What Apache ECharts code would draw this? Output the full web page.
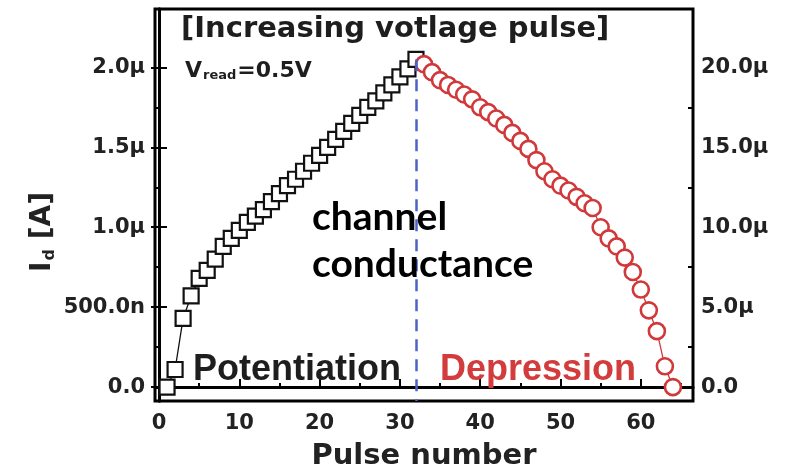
<!DOCTYPE html>
<html><head><meta charset="utf-8">
<script src="https://cdn.jsdelivr.net/npm/echarts@6/dist/echarts.min.js"></script>
<style>html,body{margin:0;padding:0;background:#fff}#c{width:789px;height:476px}</style>
</head><body><div id="c"></div>
<script>
// ---- data (current in μA) ----
const potPulse = [1,2,3,4,5,6,7,8,9,10,11,12,13,14,15,16,17,18,19,20,21,22,23,24,25,26,27,28,29,30,31,32];
const potCurrent = [0.00,0.11,0.43,0.57,0.68,0.73,0.80,0.88,0.93,0.98,1.03,1.07,1.11,1.16,1.21,1.26,1.30,1.35,1.40,1.45,1.50,1.55,1.60,1.65,1.70,1.75,1.79,1.84,1.89,1.94,1.99,2.05];
const depPulse = [33,34,35,36,37,38,39,40,41,42,43,44,45,46,47,48,49,50,51,52,53,54,55,56,57,58,59,60,61,62,63,64];
const depCurrent = [2.02,1.97,1.92,1.89,1.86,1.83,1.80,1.75,1.72,1.68,1.64,1.59,1.54,1.49,1.42,1.35,1.30,1.26,1.23,1.19,1.15,1.12,1.00,0.93,0.88,0.81,0.72,0.61,0.48,0.35,0.13,0.00];
const dividerPulse = 32;
const xTicks = [0,10,20,30,40,50,60];
const xMinorTicks = [5,15,25,35,45,55,65];
const leftTicks = [0,0.5,1.0,1.5,2.0];
const leftTickLabels = ['0.0','500.0n','1.0μ','1.5μ','2.0μ'];
const leftMinorTicks = [0.25,0.75,1.25,1.75];
const rightTicks = [0,5,10,15,20];
const rightTickLabels = ['0.0','5.0μ','10.0μ','15.0μ','20.0μ'];
const rightMinorTicks = [2.5,7.5,12.5,17.5];

const BOLD = 'DejaVu Sans';
const chart = echarts.init(document.getElementById('c'), null, {renderer:'canvas'});
const lab = (ticks, labels) => (v) => { const i = ticks.findIndex(t => Math.abs(t - v) < 1e-6); return i >= 0 ? labels[i] : ''; };
const labelStyle = {fontFamily: BOLD, fontWeight: 'bold', fontSize: 21, color: '#222'};

const option = {
  animation: false,
  backgroundColor: '#fff',
  grid: {left: 155, top: 9, right: 96, bottom: 71, show: true, borderColor: '#000', borderWidth: 3, backgroundColor: 'transparent'},
  xAxis: [
    {type: 'value', min: -0.5, max: 66.5, position: 'bottom',
     axisLine: {show: true, lineStyle: {color: '#000', width: 3}},
     axisTick: {show: true, inside: true, length: 8, lineStyle: {color: '#000', width: 2}, customValues: xTicks},
     axisLabel: Object.assign({customValues: xTicks, margin: 12, formatter: v => String(v)}, labelStyle),
     splitLine: {show: false},
     name: 'Pulse number', nameLocation: 'middle', nameGap: 41,
     nameTextStyle: {fontFamily: BOLD, fontWeight: 'bold', fontSize: 29, color: '#222'}},
    {type: 'value', min: -0.5, max: 66.5, position: 'bottom',
     axisLine: {show: false},
     axisTick: {show: true, inside: true, length: 4, lineStyle: {color: '#000', width: 2}, customValues: xMinorTicks},
     axisLabel: {show: false}, splitLine: {show: false}}
  ],
  yAxis: [
    {type: 'value', min: -0.087, max: 2.365, position: 'left',
     axisLine: {show: true, lineStyle: {color: '#000', width: 3}},
     axisTick: {show: true, inside: true, length: 8, lineStyle: {color: '#000', width: 2}, customValues: leftTicks},
     axisLabel: Object.assign({customValues: leftTicks, margin: 10, formatter: lab(leftTicks, leftTickLabels)}, labelStyle),
     splitLine: {show: false}},
    {type: 'value', min: -0.87, max: 23.65, position: 'right',
     axisLine: {show: true, lineStyle: {color: '#000', width: 3}},
     axisTick: {show: true, inside: true, length: 8, lineStyle: {color: '#000', width: 2}, customValues: rightTicks},
     axisLabel: Object.assign({customValues: rightTicks, margin: 8, formatter: lab(rightTicks, rightTickLabels)}, labelStyle),
     splitLine: {show: false}},
    {type: 'value', min: -0.087, max: 2.365, position: 'left',
     axisLine: {show: false},
     axisTick: {show: true, inside: true, length: 5, lineStyle: {color: '#000', width: 2}, customValues: leftMinorTicks},
     axisLabel: {show: false}, splitLine: {show: false}},
    {type: 'value', min: -0.87, max: 23.65, position: 'right',
     axisLine: {show: false},
     axisTick: {show: true, inside: true, length: 5, lineStyle: {color: '#000', width: 2}, customValues: rightMinorTicks},
     axisLabel: {show: false}, splitLine: {show: false}}
  ],
  series: [
    {type: 'line', name: 'Potentiation', xAxisIndex: 0, yAxisIndex: 0,
     data: potPulse.map((p, i) => [p, potCurrent[i]]),
     symbol: 'rect', symbolSize: 15,
     itemStyle: {color: '#fff', borderColor: '#111', borderWidth: 2.2},
     lineStyle: {color: '#111', width: 1.3},
     z: 3,
     markLine: {silent: true, symbol: 'none', animation: false,
       lineStyle: {color: '#4a63c4', width: 2.5, type: [12, 8]},
       label: {show: false},
       data: [[{coord: [dividerPulse, potCurrent[potCurrent.length - 1]]}, {coord: [dividerPulse, -0.087]}]]}},
    {type: 'line', name: 'Depression', xAxisIndex: 0, yAxisIndex: 0,
     data: depPulse.map((p, i) => [p, depCurrent[i]]),
     symbol: 'circle', symbolSize: 16,
     itemStyle: {color: '#fff', borderColor: '#d0383a', borderWidth: 2.6},
     lineStyle: {color: '#d0383a', width: 1.3},
     z: 4}
  ],
  graphic: [
    {type: 'text', x: 43, y: 232, rotation: Math.PI / 2, z: 10,
     style: {text: '{m|I}{s|d}{m| [A]}', align: 'center', verticalAlign: 'middle', rich: {
       m: {fontFamily: BOLD, fontWeight: 'bold', fontSize: 28, fill: '#222'},
       s: {fontFamily: BOLD, fontWeight: 'bold', fontSize: 16, fill: '#222', padding: [14, 0, 0, 1]}}}},
    {type: 'text', left: 181, top: 15, z: 10,
     style: {text: '[Increasing votlage pulse]', fontFamily: BOLD, fontWeight: 'bold', fontSize: 29, fill: '#1e1e1e'}},
    {type: 'text', left: 185, top: 60, z: 10,
     style: {text: '{m|V}{s|read}{m|=0.5V}', rich: {
       m: {fontFamily: BOLD, fontWeight: 'bold', fontSize: 22, fill: '#1e1e1e'},
       s: {fontFamily: BOLD, fontWeight: 'bold', fontSize: 13, fill: '#1e1e1e', padding: [9, 1, 0, 1]}}}},
    {type: 'text', left: 312, top: 194, z: 10,
     style: {text: 'channel\nconductance', fontFamily: 'Lato', fontWeight: 'bold', fontSize: 39, lineHeight: 47, fill: '#000'}},
    {type: 'text', left: 193, top: 352, z: 10,
     style: {text: 'Potentiation', fontFamily: 'Liberation Sans', fontWeight: 'bold', fontSize: 36, fill: '#1e1e1e'}},
    {type: 'text', left: 440, top: 352, z: 10,
     style: {text: 'Depression', fontFamily: 'Liberation Sans', fontWeight: 'bold', fontSize: 36, fill: '#d23c3c'}}
  ]
};
chart.setOption(option);
</script>
</body></html>
